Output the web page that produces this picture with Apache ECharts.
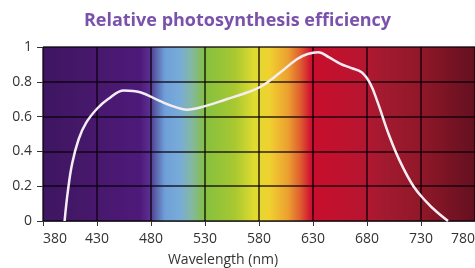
<!DOCTYPE html>
<html>
<head>
<meta charset="utf-8">
<script src="https://cdn.jsdelivr.net/npm/echarts@6/dist/echarts.min.js"></script>
<style>
  html, body { margin: 0; padding: 0; background: #fff; }
  #main { width: 475px; height: 268px; }
</style>
</head>
<body>
<div id="main"></div>
<script>
  // wavelength (nm) and relative efficiency
  var wavelength = [400, 403, 407, 413, 420, 430, 440, 455, 470, 488, 500, 513, 530, 550, 565, 581, 599, 615, 625, 635, 645, 655, 665, 675, 683, 690, 700, 710, 723, 735, 745, 755];
  var efficiency = [0, 0.17, 0.33, 0.47, 0.565, 0.645, 0.70, 0.75, 0.74, 0.69, 0.66, 0.64, 0.66, 0.70, 0.73, 0.77, 0.85, 0.93, 0.96, 0.97, 0.94, 0.905, 0.88, 0.855, 0.79, 0.68, 0.50, 0.35, 0.20, 0.11, 0.05, 0];
  var xTicks = [380, 430, 480, 530, 580, 630, 680, 730, 780];
  var yTicks = [0, 0.2, 0.4, 0.6, 0.8, 1];

  var points = wavelength.map(function (w, i) { return [w, efficiency[i]]; });

  // spectrum behind the plot
  var spectrum = new echarts.graphic.LinearGradient(0, 0, 1, 0, [
    { offset: 0, color: '#3e1660' },
    { offset: 0.13, color: '#48186e' },
    { offset: 0.225, color: '#4e1a7a' },
    { offset: 0.248, color: '#5a3090' },
    { offset: 0.26, color: '#5860a8' },
    { offset: 0.282, color: '#6f9fd8' },
    { offset: 0.317, color: '#78acd8' },
    { offset: 0.345, color: '#84b8a0' },
    { offset: 0.375, color: '#84c040' },
    { offset: 0.444, color: '#a8c830' },
    { offset: 0.49, color: '#e0dc30' },
    { offset: 0.525, color: '#f0d030' },
    { offset: 0.567, color: '#eca030' },
    { offset: 0.595, color: '#e06030' },
    { offset: 0.618, color: '#d01830' },
    { offset: 0.625, color: '#c80e2c' },
    { offset: 0.734, color: '#b81530' },
    { offset: 0.78, color: '#a51a30' },
    { offset: 0.873, color: '#901828' },
    { offset: 1, color: '#641020' }
  ]);

  var chart = echarts.init(document.getElementById('main'));
  chart.setOption({
    animation: false,
    title: {
      text: 'Relative photosynthesis efficiency',
      left: 'center',
      top: 7,
      textStyle: { color: '#7b52ab', fontSize: 18, fontWeight: 'bold', fontFamily: 'Open Sans' }
    },
    grid: {
      left: 43, right: 0, top: 47, bottom: 47,
      outerBoundsMode: 'none',
      containLabel: false,
      show: true,
      backgroundColor: spectrum,
      borderWidth: 0
    },
    xAxis: {
      type: 'value',
      min: xTicks[0],
      max: xTicks[xTicks.length - 1],
      interval: 50,
      name: 'Wavelength (nm)',
      nameLocation: 'middle',
      nameGap: 32,
      nameTextStyle: { color: '#333', fontSize: 14, fontFamily: 'Open Sans', padding: [0, 72, 0, 0] },
      axisLine: { show: true, lineStyle: { color: '#333', width: 1 } },
      axisTick: { show: true, length: 5, lineStyle: { color: '#333' } },
      axisLabel: { color: '#333', fontSize: 14, fontFamily: 'Open Sans', margin: 11, alignMinLabel: 'left', alignMaxLabel: 'right' },
      splitLine: { show: true, lineStyle: { color: 'rgba(10,0,10,0.85)', width: 1.5 } }
    },
    yAxis: {
      type: 'value',
      min: yTicks[0],
      max: yTicks[yTicks.length - 1],
      interval: 0.2,
      axisLine: { show: false },
      axisTick: { show: true, length: 6, lineStyle: { color: '#333' } },
      axisLabel: { color: '#333', fontSize: 14, fontFamily: 'Open Sans', margin: 11 },
      splitLine: { show: true, lineStyle: { color: 'rgba(10,0,10,0.85)', width: 1.5 } }
    },
    series: [{
      type: 'line',
      data: points,
      smooth: 0.4,
      showSymbol: false,
      lineStyle: { color: '#f4eef4', width: 2.5 }
    }]
  });
</script>
</body>
</html>
